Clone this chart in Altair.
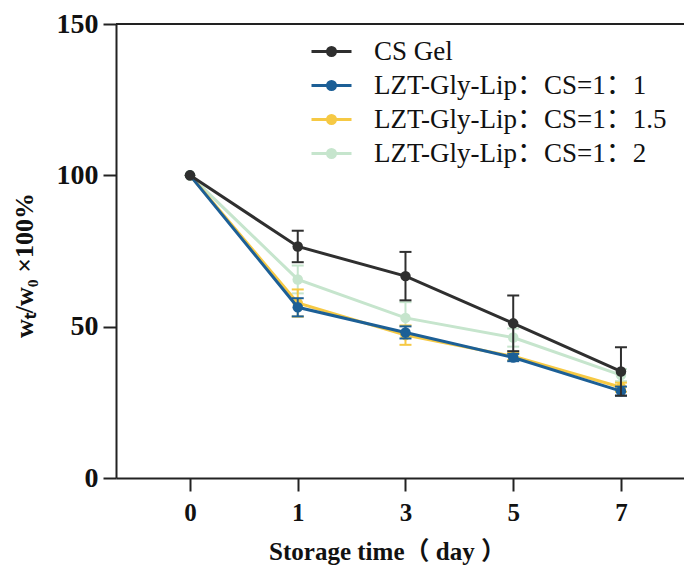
import altair as alt
import pandas as pd

days = ["0", "1", "3", "5", "7"]
series_names = ["CS Gel", "LZT-Gly-Lip：CS=1：1", "LZT-Gly-Lip：CS=1：1.5", "LZT-Gly-Lip：CS=1：2"]
cs_gel = [100, 76.5, 66.7, 51.1, 35.2]
cs_gel_err = [0, 5.2, 8.0, 9.2, 8.0]
lzt_1_1 = [100, 56.4, 48.1, 39.8, 28.7]
lzt_1_1_err = [0, 3.0, 2.0, 1.2, 1.5]
lzt_1_15 = [100, 57.8, 47.2, 40.2, 30.0]
lzt_1_15_err = [0, 4.5, 3.2, 1.2, 1.5]
lzt_1_2 = [100, 65.6, 52.9, 46.4, 34.0]
lzt_1_2_err = [0, 4.6, 5.2, 3.0, 2.0]
line_colors = ["#2f2f2f", "#1c5f96", "#f6c944", "#c6e5cd"]
err_colors = ["#111111", "#1c5f96", "#b08a3a", "#8fb8a5"]

values = [cs_gel, lzt_1_1, lzt_1_15, lzt_1_2]
errors = [cs_gel_err, lzt_1_1_err, lzt_1_15_err, lzt_1_2_err]

rows = []
for name, vals, errs in zip(series_names, values, errors):
    for d, v, e in zip(days, vals, errs):
        rows.append({"day": d, "series": name, "value": v, "err": e,
                     "lo": v - e, "hi": v + e})
df = pd.DataFrame(rows)

FONT = "'Liberation Serif', 'Times New Roman', 'Noto Sans CJK SC', serif"


def ring(r):
    return f"M-{r},0A{r},{r},0,1,1,{r},0A{r},{r},0,1,1,-{r},0Z"


legend_path = "M-2,0H2" + "".join(ring(r) for r in [0.4, 0.25, 0.1])

color = alt.Color(
    "series:N",
    scale=alt.Scale(domain=series_names, range=line_colors),
    legend=alt.Legend(
        title=None, orient="none", legendX=202, legendY=14,
        symbolType=legend_path, symbolSize=400, symbolStrokeWidth=3,
        symbolOpacity=1,
        labelFont=FONT, labelFontSize=27, labelColor="#111",
        labelOffset=29, rowPadding=6, padding=0,
        labelLimit=500,
    ),
)

x = alt.X(
    "day:O", sort=days,
    scale=alt.Scale(type="point", padding=0.636, align=0.54),
    axis=alt.Axis(title="Storage time（ day ）", labelAngle=0, labelFont=FONT,
                  labelFontSize=25, labelFontWeight="bold", labelPadding=9,
                  titleFont=FONT, titleFontSize=25, titleFontWeight="bold",
                  titleX=271, titleY=61, titleAnchor="middle"),
)
y_axis = alt.Axis(title="wₜ/w₀ ×100%", values=[0, 50, 100, 150], labelFont=FONT,
                  labelFontSize=28, labelFontWeight="bold", labelPadding=5,
                  titleFont=FONT, titleFontSize=26, titleFontWeight="bold",
                  titleX=-92, titleY=241, titleAngle=270, titleBaseline="middle")
y_scale = alt.Scale(domain=[0, 150], nice=False)

base = alt.Chart(df).encode(x=x, color=color)

layers = []
# top border at 150
layers.append(
    alt.Chart(pd.DataFrame({"v": [150]})).mark_rule(color="#222", strokeWidth=2)
    .encode(y=alt.Y("v:Q", scale=y_scale, axis=y_axis))
)
for i in reversed(range(len(series_names))):
    name = series_names[i]
    sub = base.transform_filter(alt.datum.series == name)
    ec = err_colors[i]
    eb = sub.transform_filter(alt.datum.err > 0)
    layers.append(eb.mark_rule(strokeWidth=2, color=ec).encode(
        y=alt.Y("lo:Q", scale=y_scale, axis=y_axis), y2="hi:Q"))
    layers.append(eb.mark_tick(thickness=2, size=12, color=ec, opacity=1).encode(
        y=alt.Y("lo:Q", scale=y_scale, axis=y_axis)))
    layers.append(eb.mark_tick(thickness=2, size=12, color=ec, opacity=1).encode(
        y=alt.Y("hi:Q", scale=y_scale, axis=y_axis)))
    layers.append(sub.mark_line(strokeWidth=3).encode(
        y=alt.Y("value:Q", scale=y_scale, axis=y_axis)))
    layers.append(sub.mark_circle(size=110, opacity=1).encode(
        y=alt.Y("value:Q", scale=y_scale, axis=y_axis)))

chart = alt.layer(*layers).properties(
    width=568, height=454,
    autosize=alt.AutoSizeParams(type="none"),
    padding={"left": 108, "top": 16, "right": 0, "bottom": 88},
).configure_view(stroke=None).configure_axis(
    grid=False, domainColor="#222", domainWidth=2, tickColor="#222",
    tickWidth=2, tickSize=13, labelColor="#111", titleColor="#111",
)

chart.save("out.html", embed_options={"renderer": "svg", "actions": False})
